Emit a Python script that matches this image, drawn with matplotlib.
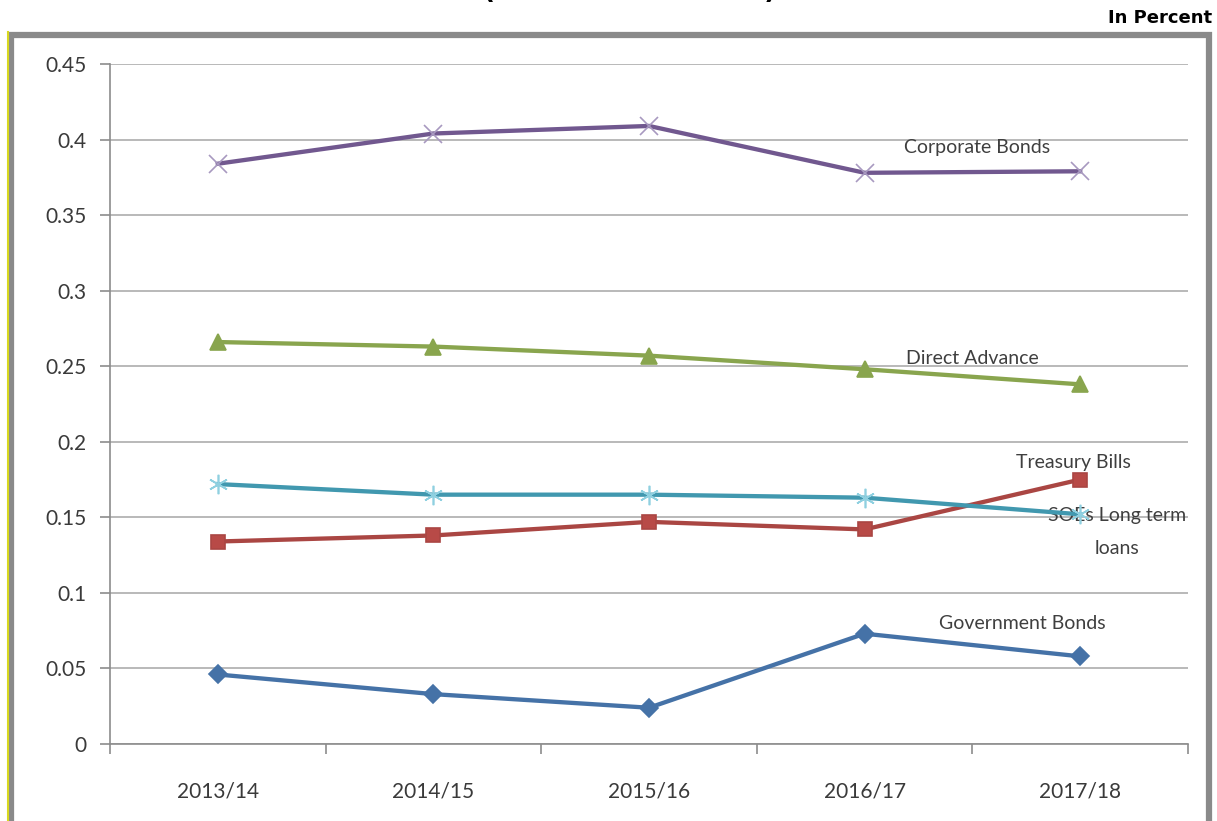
import numpy as np
import matplotlib.pyplot as plt
from matplotlib.patches import Rectangle
from matplotlib.lines import Line2D

years = ["2013/14", "2014/15", "2015/16", "2016/17", "2017/18"]

gov_bonds = [0.046, 0.033, 0.024, 0.073, 0.058]
treasury_bills = [0.134, 0.138, 0.147, 0.142, 0.175]
direct_advance = [0.266, 0.263, 0.257, 0.248, 0.238]
corporate_bonds = [0.384, 0.404, 0.409, 0.378, 0.379]
soe_loans = [0.172, 0.165, 0.165, 0.163, 0.152]

plt.rcParams['font.family'] = ['Lato', 'DejaVu Sans']

fig = plt.figure(figsize=(12.17, 8.21), dpi=100)
ax = fig.add_axes([110 / 1217, 1 - 744 / 821, 1078 / 1217, 680 / 821])

x = np.arange(len(years))

# series: values, line colour, marker, marker face, marker edge, size
series = [
    (gov_bonds, '#4572a7', 'D', '#4572a7', '#4572a7', 9),
    (treasury_bills, '#aa4643', 's', '#b84a47', '#aa4643', 10),
    (direct_advance, '#89a54e', '^', '#89a54e', '#89a54e', 11),
    (corporate_bonds, '#71588f', 'x', '#a899c0', '#a899c0', 13),
    (soe_loans, '#4198af', (6, 2, 0), '#8fd0e0', '#8fd0e0', 14),
]
for vals, col, mk, mfc, mec, ms in series:
    ax.plot(x, vals, color=col, lw=3.1, marker=mk, ms=ms, mfc=mfc, mec=mec,
            mew=1.2, zorder=3)

# labels placed next to the lines
txt = dict(fontsize=14, color='#3f3f3f', zorder=1)
ax.text(3.52, 0.395, "Corporate Bonds", ha='center', va='center', **txt)
ax.text(3.5, 0.255, "Direct Advance", ha='center', va='center', **txt)
ax.text(3.97, 0.186, "Treasury Bills", ha='center', va='center', **txt)
ax.text(4.17, 0.1515, "SOEs Long term", ha='center', va='center', **txt)
ax.text(4.17, 0.1295, "loans", ha='center', va='center', **txt)
ax.text(3.73, 0.0795, "Government Bonds", ha='center', va='center', **txt)

ax.set_xlim(-0.5, 4.5)
ax.set_ylim(0, 0.45)
yt = np.arange(0, 0.451, 0.05)
ax.set_yticks(yt)
ax.set_yticklabels(["%g" % round(v, 2) for v in yt])
ax.yaxis.grid(True, color='#b3b3b3', lw=1.3)
ax.set_axisbelow(True)

ax.set_xticks(x)
ax.set_xticklabels(years)
ax.set_xticks(np.arange(-0.5, 4.6, 1), minor=True)
ax.tick_params(axis='x', which='major', length=0, pad=27, labelsize=15,
               labelcolor='#3a3a3a')
ax.tick_params(axis='x', which='minor', length=7, color='#8c8c8c', width=1.2)
ax.tick_params(axis='y', length=7, color='#8c8c8c', width=1.2, pad=10,
               labelsize=15, labelcolor='#3a3a3a')

for s in ['top', 'right']:
    ax.spines[s].set_visible(False)
for s in ['left', 'bottom']:
    ax.spines[s].set_color('#8c8c8c')
    ax.spines[s].set_linewidth(1.2)

# outer frame around the chart
W, H = 1217, 821
fig.patches.append(Rectangle((11 / W, -0.05), 1198 / W, 1.05 - 35 / H,
                             transform=fig.transFigure, fill=False,
                             ec='#8a8a8a', lw=4.5, zorder=0))
fig.lines.append(Line2D([8 / W, 8 / W], [0, 1 - 32 / H],
                        transform=fig.transFigure, color='#d8d820', lw=1.5))

fig.text(1212 / W, 1 - 18 / H, "In Percent", ha='right', va='center',
         fontsize=13, fontweight='bold', family='DejaVu Sans')
fig.text(630 / W, 1 + 2 / H, "(2013/14 - 2017/18)", ha='center',
         va='baseline', fontsize=19, fontweight='bold', family='DejaVu Sans')

fig.savefig("out.png", dpi=100)
